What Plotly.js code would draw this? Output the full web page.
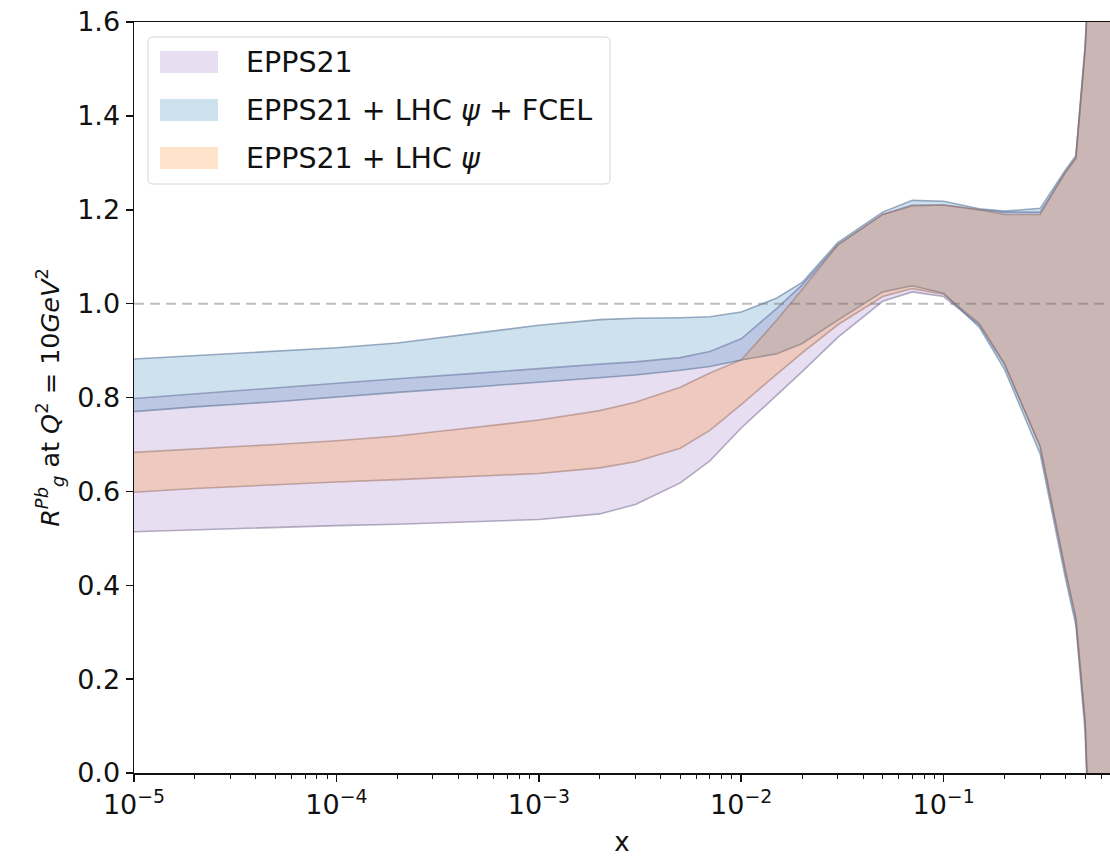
<!DOCTYPE html>
<html>
<head>
<meta charset="utf-8">
<script src="https://cdn.plot.ly/plotly-3.0.1.min.js"></script>
<style>html,body{margin:0;padding:0;background:#fff;}#chart{width:1110px;height:857px;}</style>
</head>
<body>
<div id="chart"></div>
<script>
// ---- data ----
const xGrid = [1e-5, 2e-5, 5e-5, 1e-4, 2e-4, 5e-4, 1e-3, 2e-3, 3e-3, 5e-3, 7e-3, 1e-2, 1.5e-2, 2e-2, 3e-2, 5e-2, 7e-2, 0.1, 0.15, 0.2, 0.3, 0.4, 0.45, 0.5, 0.55, 0.7];

const seriesNames = ["EPPS21", "EPPS21 + LHC <i>ψ</i> + FCEL", "EPPS21 + LHC <i>ψ</i>"];

const eppsLower = [0.514, 0.518, 0.523, 0.527, 0.530, 0.535, 0.540, 0.552, 0.572, 0.618, 0.665, 0.735, 0.805, 0.855, 0.928, 1.005, 1.025, 1.015, 0.955, 0.870, 0.695, 0.430, 0.330, 0.110, -0.40, -2.0];
const eppsUpper = [0.798, 0.808, 0.820, 0.830, 0.840, 0.852, 0.862, 0.871, 0.876, 0.885, 0.898, 0.925, 0.990, 1.040, 1.125, 1.190, 1.210, 1.210, 1.200, 1.195, 1.195, 1.280, 1.310, 1.540, 1.90, 2.6];

const fcelLower = [0.770, 0.780, 0.791, 0.801, 0.811, 0.823, 0.833, 0.842, 0.848, 0.858, 0.866, 0.880, 0.893, 0.915, 0.965, 1.025, 1.038, 1.022, 0.950, 0.860, 0.680, 0.415, 0.315, 0.090, -0.40, -2.0];
const fcelUpper = [0.882, 0.889, 0.898, 0.906, 0.916, 0.937, 0.954, 0.966, 0.969, 0.970, 0.972, 0.982, 1.012, 1.045, 1.130, 1.195, 1.220, 1.218, 1.202, 1.197, 1.203, 1.285, 1.315, 1.550, 1.90, 2.6];

const lhcLower = [0.598, 0.606, 0.614, 0.620, 0.625, 0.632, 0.638, 0.650, 0.663, 0.692, 0.730, 0.785, 0.850, 0.895, 0.955, 1.015, 1.032, 1.020, 0.958, 0.872, 0.695, 0.430, 0.330, 0.110, -0.40, -2.0];
const lhcUpper = [0.683, 0.690, 0.700, 0.708, 0.718, 0.737, 0.752, 0.772, 0.790, 0.822, 0.852, 0.880, 0.965, 1.030, 1.125, 1.190, 1.208, 1.210, 1.200, 1.190, 1.190, 1.280, 1.310, 1.540, 1.90, 2.6];

const xTickVals = [1e-5, 1e-4, 1e-3, 1e-2, 1e-1];
const xTickText = ["10<sup>−5</sup>", "10<sup>−4</sup>", "10<sup>−3</sup>", "10<sup>−2</sup>", "10<sup>−1</sup>"];
const yTickVals = [0, 0.2, 0.4, 0.6, 0.8, 1.0, 1.2, 1.4, 1.6];

// ---- styles ----
const fills = ["rgba(148,103,189,0.22)", "rgba(31,119,180,0.22)", "rgba(255,127,14,0.22)"];
const edges = ["rgba(110,100,140,0.5)", "rgba(80,110,145,0.55)", "rgba(150,110,100,0.5)"];
const FONT = "DejaVu Sans, Liberation Sans, sans-serif";

function band(lower, upper, i) {
  const xs = xGrid.concat(xGrid.slice().reverse());
  const ys = upper.concat(lower.slice().reverse());
  return {
    type: "scatter", mode: "lines", x: xs, y: ys,
    fill: "toself", fillcolor: fills[i],
    line: {color: edges[i], width: 1.6},
    name: seriesNames[i], showlegend: false, hoverinfo: "skip"
  };
}

const traces = [
  band(eppsLower, eppsUpper, 0),
  band(fcelLower, fcelUpper, 1),
  band(lhcLower, lhcUpper, 2)
];

// minor tick positions on log axis
const minorTicks = [];
for (let k = -5; k <= -1; k++) for (let m = 2; m <= 9; m++) minorTicks.push(m * Math.pow(10, k));

// legend (drawn as shapes + annotations)
const L = 134, W = 976, B = 773, H = 751;
const px = v => (v - L) / W;
const py = v => (B - v) / H;
const bx0 = px(148), bx1 = px(610), by0 = py(184), by1 = py(37);
const rx = 5 / W, ry = 5 / H;
const boxPath = `M${bx0+rx},${by1} L${bx1-rx},${by1} Q${bx1},${by1} ${bx1},${by1-ry} L${bx1},${by0+ry} Q${bx1},${by0} ${bx1-rx},${by0} L${bx0+rx},${by0} Q${bx0},${by0} ${bx0},${by0+ry} L${bx0},${by1-ry} Q${bx0},${by1} ${bx0+rx},${by1} Z`;

const rowY = [62, 110, 158];
const shapes = [
  {type: "line", xref: "paper", yref: "y", x0: 0, x1: 1, y0: 1, y1: 1,
   line: {color: "rgba(110,110,110,0.45)", width: 2, dash: "10px,6px"}, layer: "above"},
  {type: "path", xref: "paper", yref: "paper", path: boxPath,
   fillcolor: "rgba(255,255,255,0.8)", line: {color: "#d4d4d4", width: 1}, layer: "above"}
];
const annotations = [];
rowY.forEach((r, i) => {
  shapes.push({type: "rect", xref: "paper", yref: "paper",
    x0: px(160), x1: px(218), y0: py(r + 11), y1: py(r - 11),
    fillcolor: fills[i], line: {width: 0}, layer: "above"});
  annotations.push({xref: "paper", yref: "paper", x: px(244), y: py(r),
    xanchor: "left", yanchor: "middle", showarrow: false, text: seriesNames[i],
    font: {family: FONT, size: 28.5, color: "#111"}});
});

const layout = {
  width: 1110, height: 857,
  margin: {l: 134, r: 0, t: 22, b: 84},
  paper_bgcolor: "#fff", plot_bgcolor: "#fff",
  showlegend: false,
  font: {family: FONT, color: "#111"},
  xaxis: {
    type: "log", range: [-5, -0.178],
    showline: true, linecolor: "#111", linewidth: 1.5, mirror: true,
    ticks: "outside", ticklen: 7, tickwidth: 1.5, tickcolor: "#111",
    tickvals: xTickVals, ticktext: xTickText,
    tickfont: {family: FONT, size: 27, color: "#111"},
    showgrid: false, zeroline: false,
    minor: {ticks: "outside", ticklen: 4, tickwidth: 1, tickcolor: "#111", tickvals: minorTicks, showgrid: false},
    title: {text: "x", font: {family: FONT, size: 26, color: "#111"}, standoff: 16}
  },
  yaxis: {
    range: [0, 1.6],
    showline: true, linecolor: "#111", linewidth: 1.5, mirror: false,
    ticks: "outside", ticklen: 7, tickwidth: 1.5, tickcolor: "#111",
    tickvals: yTickVals, tickformat: ".1f",
    tickfont: {family: FONT, size: 27, color: "#111"},
    showgrid: false, zeroline: false,
    title: {text: "<i>R</i><sup><i>Pb</i></sup><sub><i>g</i></sub> at <i>Q</i><sup>2</sup> = 10<i>GeV</i><sup>2</sup>",
            font: {family: FONT, size: 25.5, color: "#111"}, standoff: 10}
  },
  shapes: shapes,
  annotations: annotations
};

Plotly.newPlot("chart", traces, layout, {staticPlot: true, displayModeBar: false});
</script>
</body>
</html>
